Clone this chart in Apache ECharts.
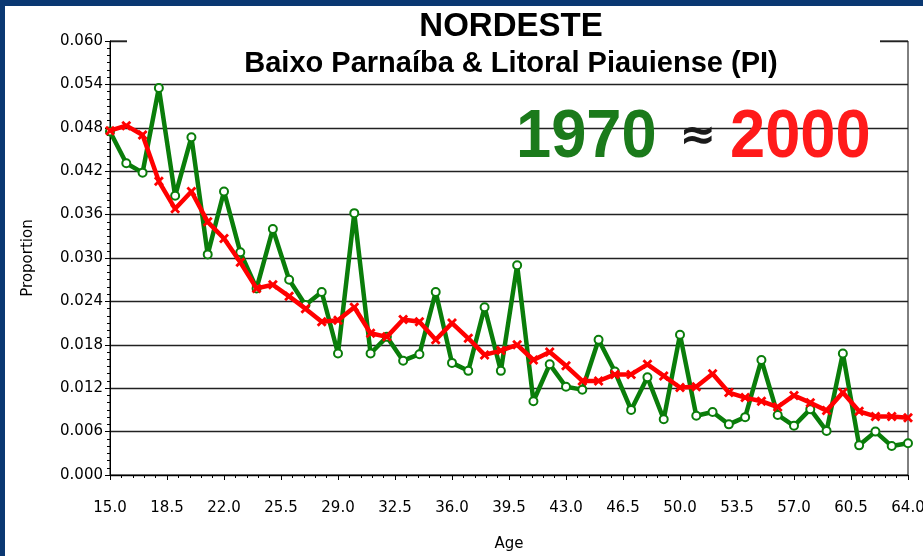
<!DOCTYPE html>
<html>
<head>
<meta charset="utf-8">
<script src="https://cdn.jsdelivr.net/npm/echarts@6/dist/echarts.min.js"></script>
<style>
  html, body { margin: 0; padding: 0; background: #fff; }
  #chart { width: 923px; height: 556px; }
</style>
</head>
<body>
<div id="chart"></div>
<script>
// ages on the x axis
const ages = [];
for (let a = 15; a <= 64; a++) ages.push(a);

// proportions (x 0.001)
const census1970 = [
  47.5, 43.1, 41.8, 53.5, 38.6, 46.7, 30.5, 39.2, 30.8, 25.8,
  34.0, 27.0, 23.5, 25.3, 16.8, 36.2, 16.8, 19.1, 15.8, 16.7,
  25.3, 15.5, 14.4, 23.2, 14.4, 29.0, 10.2, 15.3, 12.2, 11.8,
  18.7, 14.3, 9.0, 13.5, 7.7, 19.4, 8.2, 8.7, 7.0, 8.0,
  15.9, 8.3, 6.8, 9.1, 6.1, 16.8, 4.1, 6.0, 4.0, 4.4
];
const census2000 = [
  47.6, 48.3, 47.0, 40.6, 36.8, 39.2, 35.0, 32.7, 29.4, 25.8,
  26.3, 24.7, 23.0, 21.2, 21.4, 23.2, 19.6, 19.1, 21.5, 21.2,
  18.7, 21.0, 18.9, 16.6, 17.2, 18.0, 15.9, 17.0, 15.1, 13.0,
  13.0, 13.9, 13.9, 15.3, 13.7, 12.1, 12.2, 14.0, 11.4, 10.7,
  10.2, 9.4, 11.0, 10.0, 8.9, 11.4, 8.8, 8.1, 8.1, 7.9
];

const titleText = 'NORDESTE';
const subtitleText = 'Baixo Parnaíba & Litoral Piauiense (PI)';

const green = '#0a7d0a';
const red = '#ff0000';
const axisFont = '"DejaVu Sans", sans-serif';
const xMark = 'path://M2,0L5,3L8,0L10,2L7,5L10,8L8,10L5,7L2,10L0,8L3,5L0,2Z';

const toPairs = vals => ages.map((a, i) => [a, vals[i] / 1000]);

const chart = echarts.init(document.getElementById('chart'), null, { renderer: 'canvas' });
chart.setOption({
  animation: false,
  backgroundColor: '#fff',
  grid: {
    left: 110, right: 15, top: 41, bottom: 81,
    show: true, borderColor: '#000', borderWidth: 1,
    outerBoundsMode: 'none'
  },
  xAxis: {
    type: 'value',
    min: 15, max: 64, interval: 3.5,
    name: 'Age', nameLocation: 'middle', nameGap: 62,
    nameTextStyle: { fontFamily: axisFont, fontSize: 15, color: '#000' },
    axisLine: { lineStyle: { color: '#000', width: 1 } },
    axisTick: { length: 5, lineStyle: { color: '#000' } },
    minorTick: { show: true, splitNumber: 5, length: 3, lineStyle: { color: '#000' } },
    axisLabel: {
      margin: 26, fontFamily: axisFont, fontSize: 15, color: '#000',
      showMinLabel: true, showMaxLabel: true,
      formatter: v => v.toFixed(1)
    },
    splitLine: { show: false }
  },
  yAxis: {
    type: 'value',
    min: 0, max: 0.06, interval: 0.006,
    name: 'Proportion', nameLocation: 'middle', nameGap: 74, nameRotate: 90,
    nameTextStyle: { fontFamily: axisFont, fontSize: 15, color: '#000' },
    axisLine: { show: true, lineStyle: { color: '#000', width: 1 } },
    axisTick: { show: true, length: 5, lineStyle: { color: '#000' } },
    minorTick: { show: true, splitNumber: 6, length: 3, lineStyle: { color: '#000' } },
    axisLabel: {
      margin: 7, fontFamily: axisFont, fontSize: 15, color: '#000',
      showMinLabel: true, showMaxLabel: true,
      formatter: v => v.toFixed(3)
    },
    splitLine: { show: true, lineStyle: { color: '#222', width: 1.3 } }
  },
  series: [
    {
      name: '1970', type: 'line', data: toPairs(census1970),
      symbol: 'emptyCircle', symbolSize: 8,
      lineStyle: { color: green, width: 4.5 },
      itemStyle: { color: green, borderColor: green, borderWidth: 1.5 },
      z: 3
    },
    {
      name: '2000', type: 'line', data: toPairs(census2000),
      symbol: xMark, symbolSize: 10,
      lineStyle: { color: red, width: 4.5 },
      itemStyle: { color: red },
      z: 4
    }
  ],
  graphic: [
    { type: 'rect', z: 100, shape: { x: 0, y: 0, width: 923, height: 6 }, style: { fill: '#0a3872' } },
    { type: 'rect', z: 100, shape: { x: 0, y: 0, width: 5, height: 556 }, style: { fill: '#0a3872' } },
    { type: 'rect', z: 90, shape: { x: 127, y: 34, width: 753, height: 16 }, style: { fill: '#fff' } },
    {
      type: 'text', z: 101, x: 511, y: 27,
      style: { text: titleText, font: 'bold 33px "Liberation Sans", Arial, sans-serif', fill: '#000', textAlign: 'center', textVerticalAlign: 'middle' }
    },
    {
      type: 'text', z: 101, x: 511, y: 64,
      style: { text: subtitleText, font: 'bold 29px "Liberation Sans", Arial, sans-serif', fill: '#000', textAlign: 'center', textVerticalAlign: 'middle' }
    },
    {
      type: 'text', z: 101, x: 516, y: 172, scaleX: 0.93,
      style: {
        text: '1970', font: 'bold 68px "Liberation Sans", Arial, sans-serif', fill: '#1b7a1b',
        textAlign: 'left', textVerticalAlign: 'bottom',
        shadowColor: 'rgba(0,0,0,0.45)', shadowBlur: 3, shadowOffsetX: 3, shadowOffsetY: 3
      }
    },
    {
      type: 'text', z: 101, x: 698, y: 138,
      style: { text: '≈', font: 'bold 44px "DejaVu Sans", sans-serif', fill: '#1a1a1a', textAlign: 'center', textVerticalAlign: 'middle' }
    },
    {
      type: 'text', z: 101, x: 730, y: 172, scaleX: 0.93,
      style: {
        text: '2000', font: 'bold 68px "Liberation Sans", Arial, sans-serif', fill: '#ff1a1a',
        textAlign: 'left', textVerticalAlign: 'bottom',
        shadowColor: 'rgba(0,0,0,0.45)', shadowBlur: 3, shadowOffsetX: 3, shadowOffsetY: 3
      }
    }
  ]
});
</script>
</body>
</html>
